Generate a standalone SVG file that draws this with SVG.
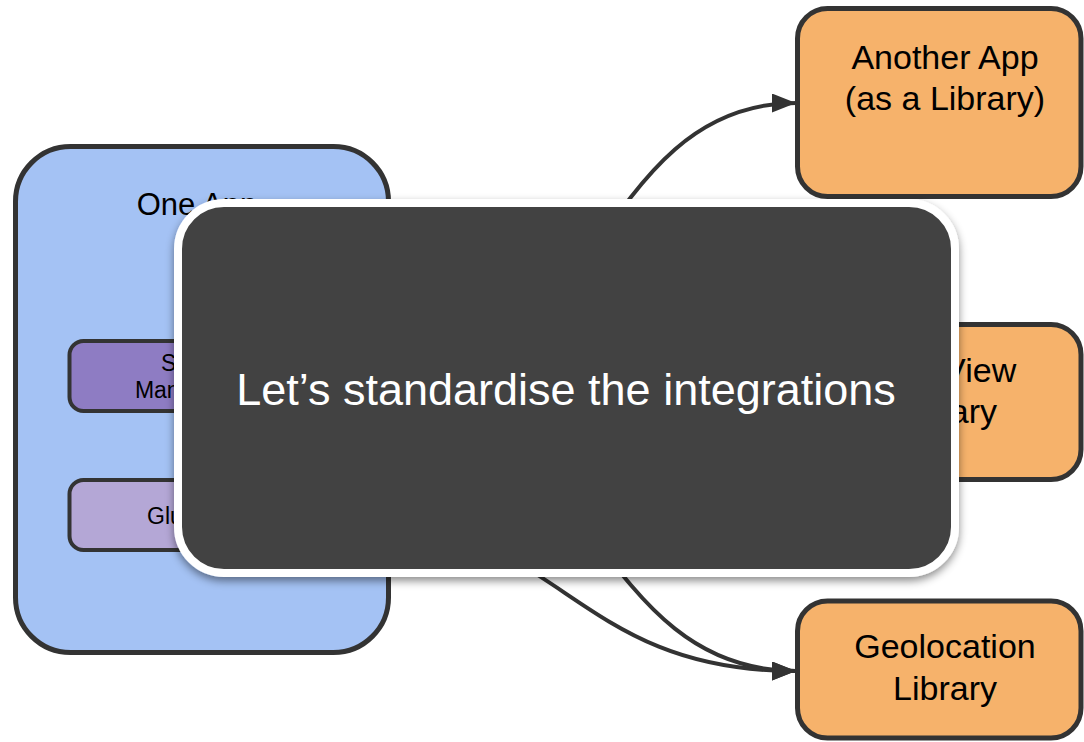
<svg xmlns="http://www.w3.org/2000/svg" width="1084" height="742" viewBox="0 0 1084 742">
  <style>
    .box { stroke: #333333; stroke-width: 5; }
    .inner { stroke: #333333; stroke-width: 4; }
    .lbl { font-family: "Liberation Sans", Arial, sans-serif; fill: #000000; text-anchor: middle; }
    .conn { fill: none; stroke: #333333; stroke-width: 4; }
  </style>
  <defs>
    <marker id="arrow" markerUnits="userSpaceOnUse" markerWidth="24" markerHeight="19" refX="24" refY="9.5" orient="auto">
      <path d="M0,0 L24,9.5 L0,19 Z" fill="#333333"/>
    </marker>
    <filter id="shadow" x="-10%" y="-10%" width="120%" height="125%">
      <feDropShadow dx="0" dy="4" stdDeviation="4" flood-color="#000000" flood-opacity="0.45"/>
    </filter>
  </defs>

  <g id="connectors">
    <path class="conn" d="M388,400 C592,400 592,103 796,103" marker-end="url(#arrow)"/>
    <path class="conn" d="M388,400 C592,400 592,671 796,671" marker-end="url(#arrow)"/>
    <path class="conn" d="M333.5,515 C565,515 565,671 796,671" marker-end="url(#arrow)"/>
  </g>

  <g id="one-app">
    <rect class="box" x="15.5" y="146.5" width="373" height="506" rx="55" fill="#a4c2f4"/>
    <text class="lbl" x="197" y="215" font-size="31">One App</text>
  </g>
  <g id="session-management">
    <rect class="inner" x="69.5" y="341" width="264" height="70" rx="14" fill="#8e7cc3"/>
    <text class="lbl" x="202" y="371" font-size="23">Session</text>
    <text class="lbl" x="202" y="398" font-size="23">Management</text>
  </g>
  <g id="glue-code">
    <rect class="inner" x="69.5" y="480" width="264" height="70" rx="14" fill="#b4a7d6"/>
    <text class="lbl" x="202" y="523.5" font-size="23">Glue Code</text>
  </g>
  <g id="another-app">
    <rect class="box" x="797.5" y="8.5" width="283.5" height="188" rx="30" fill="#f6b26b"/>
    <text class="lbl" x="945" y="68.5" font-size="34">Another App</text>
    <text class="lbl" x="945" y="110" font-size="34">(as a Library)</text>
  </g>
  <g id="webview-library">
    <rect class="box" x="797.5" y="324.5" width="283.5" height="155" rx="30" fill="#f6b26b"/>
    <text class="lbl" x="945" y="382" font-size="34">WebView</text>
    <text class="lbl" x="945" y="423" font-size="34">Library</text>
  </g>
  <g id="geolocation-library">
    <rect class="box" x="797.5" y="601" width="283.5" height="137" rx="30" fill="#f6b26b"/>
    <text class="lbl" x="945" y="658" font-size="34">Geolocation</text>
    <text class="lbl" x="945" y="700" font-size="34">Library</text>
  </g>

  <g id="overlay">
    <rect x="178" y="203" width="777" height="370" rx="46" fill="#434343" stroke="#ffffff" stroke-width="8" filter="url(#shadow)"/>
    <text x="566" y="405" font-family="Liberation Sans, Arial, sans-serif" font-size="45" fill="#ffffff" text-anchor="middle">Let’s standardise the integrations</text>
  </g>
</svg>
